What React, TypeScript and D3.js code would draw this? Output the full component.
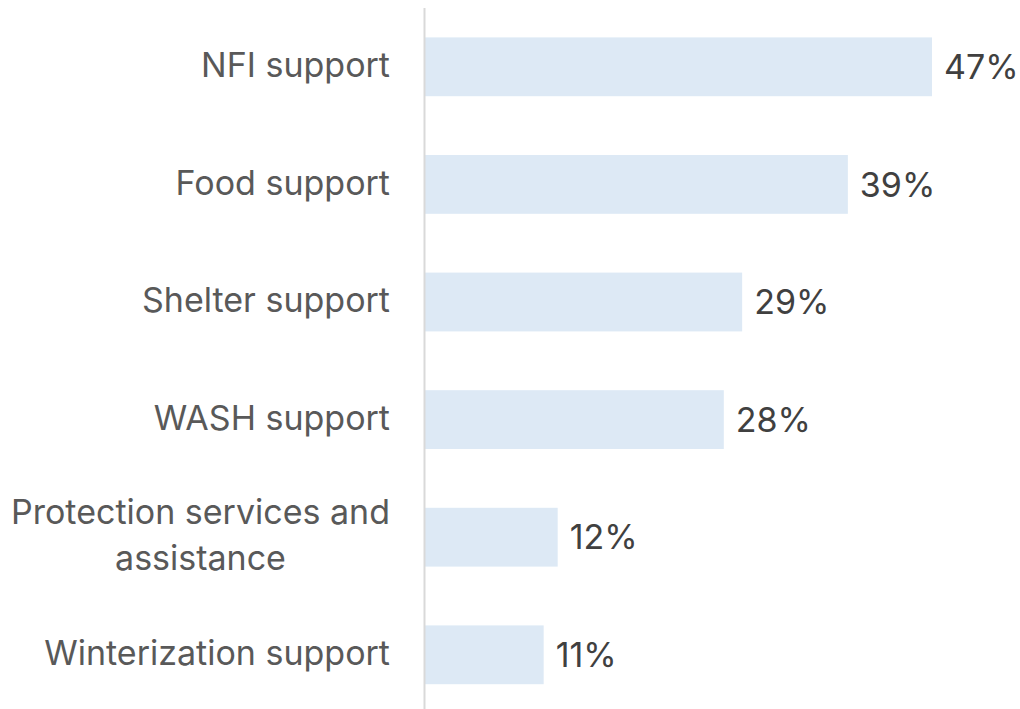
import React, { useEffect, useRef } from 'react';
import * as d3 from 'd3';

const categories = [
  ['NFI support'],
  ['Food support'],
  ['Shelter support'],
  ['WASH support'],
  ['Protection services and', 'assistance'],
  ['Winterization support'],
];
// shares (labels are the rounded figures)
const values = [47, 39.2, 29.4, 27.7, 12.3, 11.0];
const valueLabels = ['47%', '39%', '29%', '28%', '12%', '11%'];

export default function App() {
  const svgRef = useRef<SVGSVGElement>(null);

  useEffect(() => {
    if (!svgRef.current) return;
    const svg = d3.select(svgRef.current);
    svg.selectAll('*').remove();

    const width = 1020;
    const height = 709;
    const axisX = 425;
    const font = 'Inter, "Noto Sans", sans-serif';
    const fontSize = '34px';

    const ids = categories.map((_, i) => String(i));
    const y = d3.scaleBand<string>()
      .domain(ids)
      .range([8, 713.6])
      .paddingInner(0.5)
      .paddingOuter(0.25);

    const x = d3.scaleLinear().domain([0, 47]).range([axisX, 932]);

    const data = values.map((v, i) => ({ id: ids[i], v, lines: categories[i], label: valueLabels[i] }));

    // bars
    svg.append('g')
      .selectAll('rect')
      .data(data)
      .enter()
      .append('rect')
      .attr('x', x(0))
      .attr('y', d => y(d.id)!)
      .attr('width', d => x(d.v) - x(0))
      .attr('height', y.bandwidth())
      .attr('fill', '#dde9f5');

    // axis line
    svg.append('line')
      .attr('x1', axisX - 0.5)
      .attr('x2', axisX - 0.5)
      .attr('y1', 8)
      .attr('y2', height)
      .attr('stroke', '#d9d9d9')
      .attr('stroke-width', 2);

    // value labels
    svg.append('g')
      .selectAll('text')
      .data(data)
      .enter()
      .append('text')
      .attr('x', d => x(d.v) + 12)
      .attr('y', d => y(d.id)! + y.bandwidth() / 2)
      .attr('dy', '0.36em')
      .style('font-family', font)
      .style('font-size', fontSize)
      .style('fill', '#404040')
      .text(d => d.label);

    // category labels
    const labelRight = 390;
    const lineH = 46;
    const catG = svg.append('g');
    data.forEach(d => {
      const cy = y(d.id)! + y.bandwidth() / 2;
      const t = catG.append('text')
        .style('font-family', font)
        .style('font-size', fontSize)
        .style('fill', '#595959')
        .attr('text-anchor', 'middle');
      const spans = d.lines.map((line, j) =>
        t.append('tspan')
          .attr('y', cy + (j - (d.lines.length - 1) / 2) * lineH)
          .attr('dy', '0.3em')
          .text(line)
      );
      const maxW = d3.max(spans, s => (s.node() as SVGTSpanElement).getComputedTextLength()) || 0;
      spans.forEach(s => s.attr('x', labelRight - maxW / 2));
    });

    svg.attr('width', width).attr('height', height);
  }, []);

  return (
    <div style={{ position: 'absolute', left: 0, top: 0, background: '#fff' }}>
      <svg ref={svgRef} style={{ display: 'block' }}></svg>
    </div>
  );
}
